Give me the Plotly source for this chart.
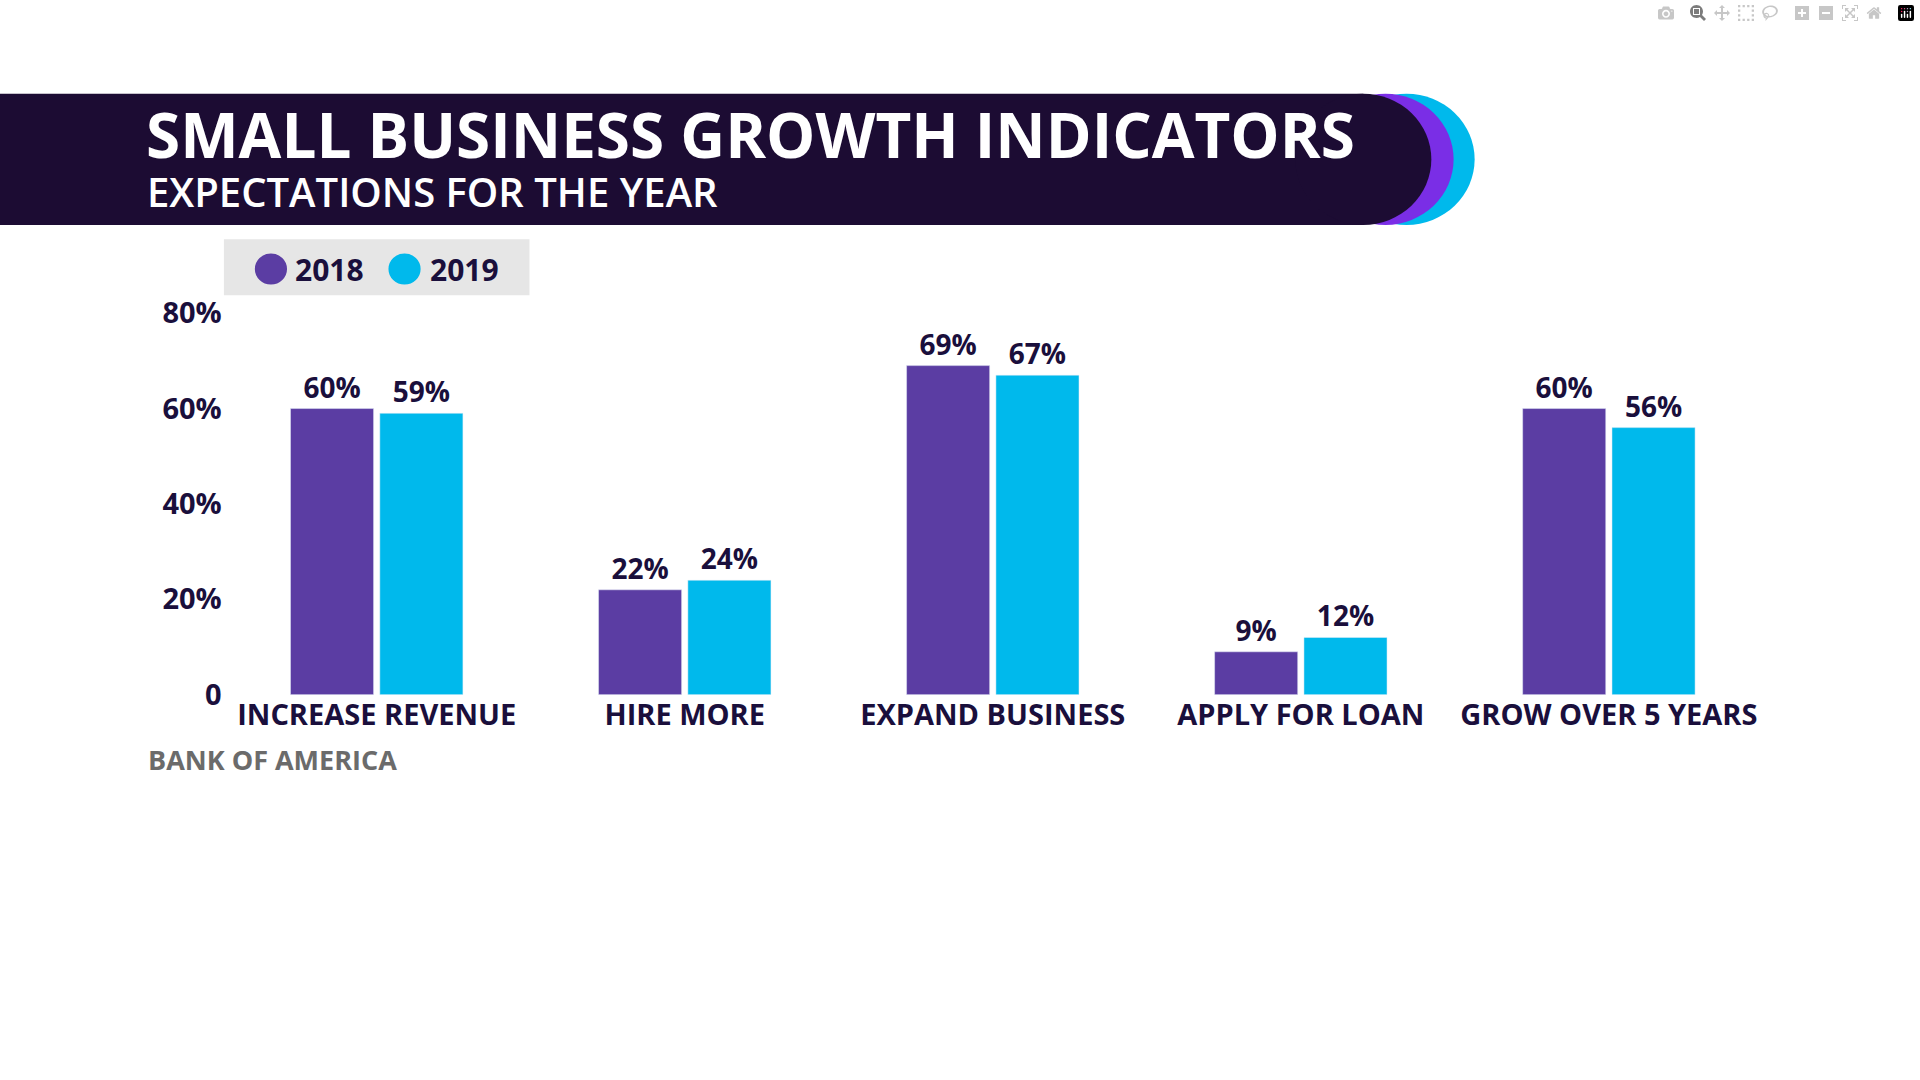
import plotly.graph_objects as go

categories = ["INCREASE REVENUE", "HIRE MORE", "EXPAND BUSINESS", "APPLY FOR LOAN", "GROW OVER 5 YEARS"]
values_2018 = [60, 22, 69, 9, 60]
values_2019 = [59, 24, 67, 12, 56]
tick_vals = [0, 20, 40, 60, 80]
tick_text = ["0", "20%", "40%", "60%", "80%"]

W, H = 1920, 1080
S = 1920 / 1552  # reference scale
PURPLE = "#5b3da3"
CYAN = "#00b9ec"
DARK = "#1a0f3c"
FONT = "Open Sans"


def px(x):
    return x * S / W


def py(y):
    return 1 - y * S / H


fig = go.Figure()
for name, vals, col in [("2018", values_2018, PURPLE), ("2019", values_2019, CYAN)]:
    fig.add_trace(go.Bar(
        x=categories, y=vals, name=name, marker_color=col,
        text=[f"{v}%" for v in vals], textposition="outside",
        textfont=dict(family=FONT, size=28, color=DARK, weight="bold"),
        cliponaxis=False, showlegend=False,
    ))

# header bar
top, bot = 61, 171
r = (bot - top) / 2
shapes = []
for cx, col in [(1137, CYAN), (1120, "#7a2ee6"), (1102, "#1c0c33")]:
    shapes.append(dict(type="circle", xref="paper", yref="paper",
                       x0=px(cx - r), x1=px(cx + r), y0=py(bot), y1=py(top),
                       fillcolor=col, line_width=0, layer="below"))
    if col == "#7a2ee6":
        shapes.append(dict(type="rect", xref="paper", yref="paper",
                           x0=0, x1=px(1102), y0=py(bot), y1=py(top),
                           fillcolor="#1c0c33", line_width=0, layer="below"))
# legend box
shapes.append(dict(type="rect", xref="paper", yref="paper",
                   x0=px(181), x1=px(428), y0=py(230), y1=py(183),
                   fillcolor="#e6e6e6", line_width=0, layer="below"))
for cx, col in [(219, PURPLE), (327, CYAN)]:
    rr = 13
    shapes.append(dict(type="circle", xref="paper", yref="paper",
                       x0=px(cx - rr), x1=px(cx + rr), y0=py(208 + rr), y1=py(208 - rr),
                       fillcolor=col, line_width=0))

annotations = [
    dict(text="SMALL BUSINESS GROWTH INDICATORS", x=px(116), y=py(95), xanchor="left", yanchor="middle",
         font=dict(family=FONT, size=62, color="white", weight="bold")),
    dict(text="EXPECTATIONS FOR THE YEAR", x=px(117), y=py(143), xanchor="left", yanchor="middle",
         font=dict(family=FONT, size=40, color="white", weight=600)),
    dict(text="2018", x=px(237), y=py(208), xanchor="left", yanchor="middle",
         font=dict(family=FONT, size=30, color=DARK, weight="bold")),
    dict(text="2019", x=px(346), y=py(208), xanchor="left", yanchor="middle",
         font=dict(family=FONT, size=30, color=DARK, weight="bold")),
    dict(text="BANK OF AMERICA", x=px(118), y=py(619), xanchor="left", yanchor="middle",
         font=dict(family=FONT, size=27, color="#6b6b6b", weight="bold")),
]
for a in annotations:
    a.update(xref="paper", yref="paper", showarrow=False)

fig.update_layout(
    width=W, height=H, margin=dict(l=0, r=0, t=0, b=0),
    paper_bgcolor="white", plot_bgcolor="white",
    barmode="group", bargap=0.42, bargroupgap=0.07,
    shapes=shapes, annotations=annotations,
    xaxis=dict(domain=[px(180), px(1425)], showgrid=False, showline=False, ticks="",
               tickfont=dict(family=FONT, size=29, color=DARK, weight="bold")),
    yaxis=dict(domain=[py(565), py(245)], range=[0, 80], tickvals=tick_vals, ticktext=tick_text,
               showgrid=False, zeroline=False, showline=False,
               tickfont=dict(family=FONT, size=29, color=DARK, weight="bold")),
)

fig.write_html("out.html", post_script="document.body.style.margin='0';document.body.style.overflow='hidden';")
